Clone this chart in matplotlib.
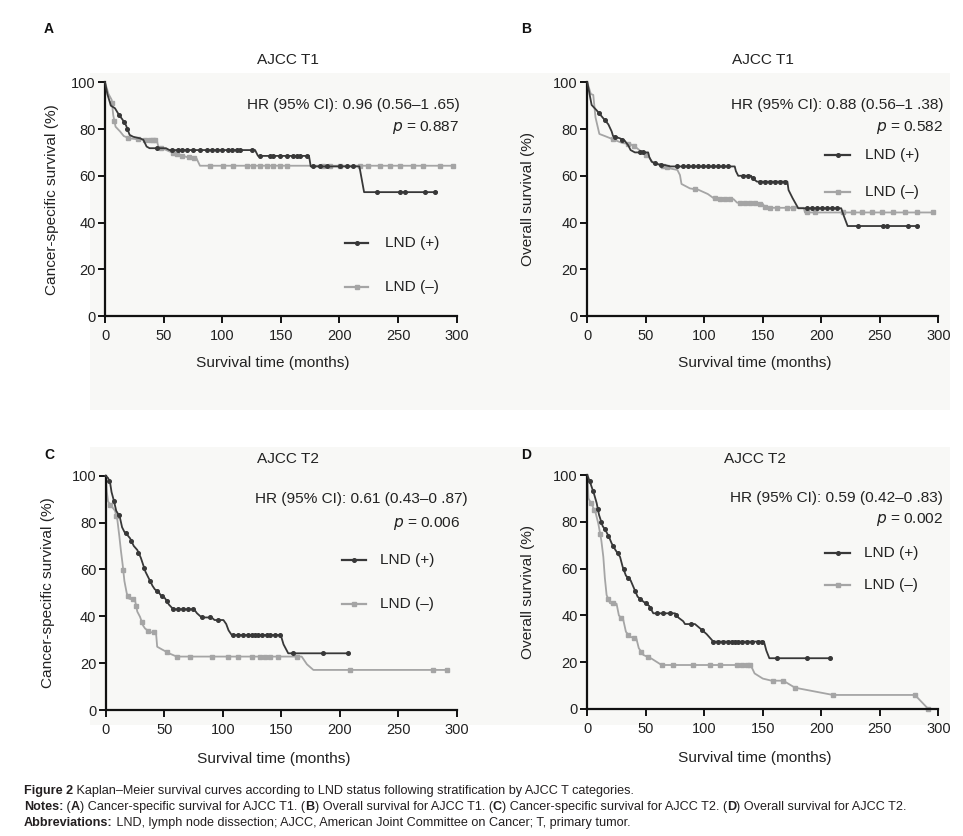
import numpy as np
import matplotlib
matplotlib.use('Agg')
import matplotlib.pyplot as plt
from matplotlib.patches import Rectangle
from matplotlib.lines import Line2D

plt.rcParams['font.family'] = ['Liberation Sans', 'DejaVu Sans']

# ---------------- data ----------------
x_ticks = [0, 50, 100, 150, 200, 250, 300]
y_ticks = [0, 20, 40, 60, 80, 100]
series_labels = ['LND (+)', 'LND (–)']
panel_letters = ['A', 'B', 'C', 'D']
panel_titles = ['AJCC T1', 'AJCC T1', 'AJCC T2', 'AJCC T2']
y_labels = ['Cancer-specific survival (%)', 'Overall survival (%)',
            'Cancer-specific survival (%)', 'Overall survival (%)']
hr_texts = ['HR (95% CI): 0.96 (0.56–1 .65)', 'HR (95% CI): 0.88 (0.56–1 .38)',
            'HR (95% CI): 0.61 (0.43–0 .87)', 'HR (95% CI): 0.59 (0.42–0 .83)']
p_values = ['0.887', '0.582', '0.006', '0.002']

# Panel A: cancer-specific survival, T1
A_pos_t = [0, 2, 5, 8.5, 12, 15, 18, 21, 24, 30, 32.7, 35.5, 38, 52, 55, 128, 130.5, 174, 175.5, 217, 221, 283]
A_pos_s = [100, 95, 90, 88.9, 86, 84, 81.5, 77.5, 76.7, 76, 75.4, 72.5, 71.8, 71.8, 71, 71, 68.5, 68.5, 64, 64, 53, 53]
A_pos_c = [12, 16, 19, 44, 56.9, 62.6, 65.4, 69.7, 75.4, 81, 86.7, 91, 95.3, 99.5, 105.2, 108, 112.3, 115.2, 125,
           132, 140.7, 143.6, 149.3, 155, 160.6, 163.5, 166.3, 172, 177.7, 183.4, 189, 200.5, 206, 211.8,
           231.7, 251.6, 255.9, 273, 281.5]
A_neg_t = [0, 3, 5.7, 7, 9, 12.8, 16, 21, 30, 37, 44, 45.5, 55, 63, 70, 78, 81, 297.5]
A_neg_s = [100, 95, 92.5, 86, 81, 79, 77, 76, 75.5, 75.5, 75.5, 72.5, 70.4, 69, 68, 67.5, 64.3, 64.3]
A_neg_c = [6, 8, 20, 28, 34, 38, 41, 43, 48, 58, 61, 66, 72, 76, 89.6, 101, 109.5, 120.8, 126.5, 132.2, 137.9,
           143.6, 149.3, 155, 186.2, 191.9, 200.5, 217.5, 224.6, 234.6, 243.1, 251.6, 263, 271.5, 285.8, 297.1]

# Panel B: overall survival, T1
B_pos_t = [0, 3.7, 8, 13, 18, 20.8, 22, 28, 32, 35, 37, 40.7, 52, 53, 55, 60, 67, 71, 126, 127, 129, 140, 141,
           145, 171, 172, 175.5, 180.3, 217, 219.5, 222.5, 283]
B_pos_s = [100, 90.3, 88, 85, 82, 79, 77, 76, 75, 73, 71, 70, 70, 68, 66, 65, 64.5, 64, 64, 62, 60, 60, 59,
           57.5, 57.5, 53.9, 50.4, 46.1, 46.1, 42.5, 38.5, 38.5]
B_pos_c = [10, 15, 24, 30, 45, 48, 58, 63, 76.4, 82.1, 86.3, 90.6, 94.9, 99.1, 103.4, 107.7, 112, 116.2, 120.5,
           133.3, 137.6, 141.3, 147.6, 151.9, 156.1, 160.4, 164.7, 169, 187.5, 191.7, 196, 200.3, 204.6,
           208.8, 213.1, 231.6, 253, 255.8, 274.4, 282]
B_neg_t = [0, 3, 5.1, 7, 10.3, 15, 20, 25, 30, 37, 42, 47, 52, 54, 56.4, 65, 72, 77, 79.2, 80.5, 87.7, 95,
           103, 108, 125, 128, 150, 152, 185, 186, 296.3]
B_neg_s = [100, 95, 94.6, 85, 77.9, 77, 76, 75, 74, 73.5, 72, 70, 68.5, 67, 65.5, 64, 63, 62.5, 60.3, 56.5,
           54.6, 54, 52.2, 50.4, 50, 48.5, 48, 46.3, 46.3, 44.3, 44.3]
B_neg_c = [22, 35, 40, 50, 65, 67.8, 92, 109, 113.4, 117.7, 122, 130.5, 134.8, 139, 143.3, 147.6, 151.5, 156,
           161.8, 170.4, 176, 187.5, 194.6, 218.8, 227.4, 234.5, 243, 251.6, 261.5, 271.5, 281.5, 295.7]

# Panel C: cancer-specific survival, T2
C_pos_t = [0, 2, 3.7, 5, 7, 9, 12, 14, 16, 18, 20.8, 24, 27, 30, 32, 34, 36, 38, 40, 42, 45, 47, 50.7, 54,
           57.8, 75.5, 78, 82, 90.6, 93, 100.6, 103, 105, 107.7, 149.6, 152, 156, 207.4]
C_pos_s = [100, 99, 97.2, 93, 89.3, 85, 82.5, 78, 76, 75, 73.3, 70, 68.3, 65, 62, 59, 57, 55, 53, 51.5, 50.5,
           49, 47.7, 45, 43, 43, 41.3, 39.5, 39.5, 38.4, 38.4, 36.7, 34, 32, 32, 28, 24.2, 24.2]
C_pos_c = [3, 7, 11, 17, 22, 28, 33, 38, 44, 48, 52, 57.8, 62.1, 66.4, 70.7, 75, 82, 89, 96, 109, 113.4,
           117.7, 121.9, 124.8, 127.6, 130.5, 133.3, 137.6, 140.5, 144.7, 149, 160.4, 186, 207.4]
C_neg_t = [0, 1, 2, 5, 8, 10, 11.7, 13, 14.5, 16, 18, 20, 25, 27, 29.3, 32, 33.6, 38, 43, 44, 47.9, 55, 60.7,
           167.5, 172, 177.5, 292]
C_neg_s = [100, 93, 89, 87, 85, 81, 74, 68, 62, 55, 49.8, 47.5, 47, 42, 39.8, 36, 34.8, 33.2, 33, 27, 25.9,
           24, 22.8, 22.8, 19.5, 17.1, 17.1]
C_neg_c = [4, 9, 15, 19, 23, 26, 31, 36, 41, 52, 60.7, 72, 90.6, 104.8, 113.4, 124.8, 131.9, 136.2, 140.5,
           147.6, 163.2, 208.8, 280, 291.5]

# Panel D: overall survival, T2
D_pos_t = [0, 1.5, 3, 6, 8, 10, 13.1, 16, 19, 20.8, 24, 28, 30.2, 33, 37, 39.3, 43, 47.9, 53, 56.4, 75, 78,
           82, 83.5, 92, 96.3, 102, 107.7, 151, 153, 155.6, 207.4]
D_pos_s = [100, 98, 96, 91.5, 88, 83, 78.2, 76, 73, 70.8, 68, 65, 60.8, 57, 55, 52.3, 48, 45.9, 44, 40.9,
           40.9, 39, 37.5, 36.3, 36.3, 34.5, 32, 28.8, 28.8, 25, 21.7, 21.7]
D_pos_c = [2, 5, 9, 12, 15, 18, 22, 26, 31, 35, 41, 45, 50, 54, 59.3, 65, 70.7, 76, 89, 98, 107.7, 112,
           116.2, 120.5, 123.4, 126.2, 129.1, 131.9, 136.2, 140.5, 146.2, 149, 161.8, 187.5, 207.4]
D_neg_t = [0, 1, 4, 7, 9.4, 12, 13.7, 15, 16.5, 19.4, 25, 27, 30.8, 33, 36.5, 42, 44, 47.9, 55, 63.5, 139.6,
           143, 150, 157.5, 167.5, 177.5, 210, 280, 291.5]
D_neg_s = [100, 90, 87.2, 84, 79.3, 72, 65, 56, 48.7, 45.2, 45, 40, 38, 33, 30.9, 30, 26, 23.1, 21.5, 18.8,
           18.8, 15.2, 13, 12.1, 12.1, 9.1, 6, 6, 0]
D_neg_c = [3, 6, 11, 18, 22, 29, 35, 40, 46, 52, 63.5, 73.5, 90.6, 104.8, 113.4, 127.6, 131.9, 136.2, 139,
           159, 167.5, 177.5, 210, 280, 291.5]

curves = [
    ((A_pos_t, A_pos_s, A_pos_c), (A_neg_t, A_neg_s, A_neg_c)),
    ((B_pos_t, B_pos_s, B_pos_c), (B_neg_t, B_neg_s, B_neg_c)),
    ((C_pos_t, C_pos_s, C_pos_c), (C_neg_t, C_neg_s, C_neg_c)),
    ((D_pos_t, D_pos_s, D_pos_c), (D_neg_t, D_neg_s, D_neg_c)),
]

caption_lines = [
    [('Figure 2', True), (' Kaplan–Meier survival curves according to LND status following stratification by AJCC T categories.', False)],
    [('Notes:', True), (' (', False), ('A', True), (') Cancer-specific survival for AJCC T1. (', False), ('B', True),
     (') Overall survival for AJCC T1. (', False), ('C', True), (') Cancer-specific survival for AJCC T2. (', False),
     ('D', True), (') Overall survival for AJCC T2.', False)],
    [('Abbreviations:', True), (' LND, lymph node dissection; AJCC, American Joint Committee on Cancer; T, primary tumor.', False)],
]

# ---------------- layout / style ----------------
W, H = 963, 836
fig = plt.figure(figsize=(W / 100, H / 100), dpi=100)
fig.patch.set_facecolor('white')

def fx(px):
    return px / W

def fy(py):
    return 1 - py / H

bg = '#f8f8f6'
fig.patches.append(Rectangle((fx(90), fy(410)), fx(950) - fx(90), fy(73) - fy(410),
                             transform=fig.transFigure, facecolor=bg, edgecolor='none', zorder=-10))
fig.patches.append(Rectangle((fx(90), fy(725)), fx(950) - fx(90), fy(447) - fy(725),
                             transform=fig.transFigure, facecolor=bg, edgecolor='none', zorder=-10))

dark = '#383838'
light = '#a5a5a5'

# axes boxes in pixels: left, right, top, bottom
boxes = [(105, 456.7, 82.3, 316), (587.3, 938.3, 82.3, 316),
         (105.7, 456.7, 475.7, 710), (587.3, 938.3, 475, 709)]
letter_pos = [(44, 29), (521, 29), (44, 455), (521, 455)]
title_pos = [(288, 60), (763, 60), (288, 459), (755, 459)]
hr_pos = [(460, 105, 459, 127), (943, 105, 943, 127), (468, 499, 460, 524), (943, 498, 943, 520)]
leg_pos = [(345, 368, 385, 243, 287), (825, 850, 865, 155, 192),
           (342, 366, 380, 560, 604), (825, 850, 864, 553, 585)]
ylab_x = [52, 528, 48, 528]
xlab_dy = [47, 47, 49, 49]

fs = 10.5
ft = 11.1
for i in range(4):
    l, r, t, b = boxes[i]
    ax = fig.add_axes([fx(l), fy(b), fx(r) - fx(l), fy(t) - fy(b)])
    ax.set_facecolor('none')
    for k, (col, mk, ms) in enumerate([(dark, 'o', 2.6), (light, 's', 3.0)]):
        tt, ss, cc = curves[i][k]
        z = 3.6 if k == 0 else 2.5
        ax.plot(tt, ss, color=col, lw=1.3, clip_on=False, zorder=z)
        cy = np.interp(cc, tt, ss)
        ax.plot(cc, cy, linestyle='none', marker=mk, ms=ms, color=col, mec=col, clip_on=False, zorder=z)
    ax.set_xlim(0, 300)
    ax.set_ylim(0, 100)
    ax.set_xticks(x_ticks)
    ax.set_yticks(y_ticks)
    for s in ['top', 'right']:
        ax.spines[s].set_visible(False)
    for s in ['left', 'bottom']:
        ax.spines[s].set_linewidth(1.6)
        ax.spines[s].set_color('#111111')
    ax.tick_params(axis='both', direction='out', length=4.8, width=1.4, labelsize=fs, color='#111111',
                   labelcolor='#222222')
    ax.tick_params(axis='x', pad=4.5)
    ax.tick_params(axis='y', pad=2.0)
    ax.set_ylabel(y_labels[i], fontsize=ft, color='#222222')
    ax.yaxis.set_label_coords((ylab_x[i] - l) / (r - l), 0.5)
    ax.yaxis.label.set_va('center')
    ax.set_xlabel('Survival time (months)', fontsize=ft, color='#222222')
    ax.xaxis.set_label_coords(0.478, -xlab_dy[i] / (b - t))
    ax.xaxis.label.set_va('center')

    fig.text(fx(letter_pos[i][0]), fy(letter_pos[i][1]), panel_letters[i], fontsize=10,
             fontweight='bold', ha='left', va='center', color='#111111')
    fig.text(fx(title_pos[i][0]), fy(title_pos[i][1]), panel_titles[i], fontsize=ft,
             ha='center', va='center', color='#222222')
    hx, hy, px_, py_ = hr_pos[i]
    fig.text(fx(hx), fy(hy), hr_texts[i], fontsize=ft, ha='right', va='center', color='#222222')
    fig.text(fx(px_), fy(py_), r'$\it{p}$ = ' + p_values[i], fontsize=ft, ha='right', va='center',
             color='#222222')
    x1, x2, xt, y1, y2 = leg_pos[i]
    for k, (col, mk, ms, yy) in enumerate([(dark, 'o', 2.6, y1), (light, 's', 3.0, y2)]):
        fig.add_artist(Line2D([fx(x1), fx(x2)], [fy(yy), fy(yy)], transform=fig.transFigure,
                              color=col, lw=1.6))
        fig.add_artist(Line2D([fx((x1 + x2) / 2)], [fy(yy)], transform=fig.transFigure,
                              color=col, marker=mk, ms=ms, linestyle='none'))
        fig.text(fx(xt), fy(yy), series_labels[k], fontsize=ft, ha='left', va='center', color='#222222')

# ---------------- caption ----------------
cap_family = ['Liberation Sans', 'DejaVu Sans']
renderer = fig.canvas.get_renderer()

def draw_line(x0, y0, parts, size):
    x = x0
    arts = []
    for txt, bold in parts:
        t = fig.text(fx(x), fy(y0), txt, fontsize=size, family=cap_family,
                     fontweight='bold' if bold else 'normal', ha='left', va='center', color='#231f20')
        w = t.get_window_extent(renderer).width
        x += w
        arts.append(t)
    return arts, x - x0

arts, wid = draw_line(24, 807, caption_lines[1], 8.0)
for a in arts:
    a.remove()
cap_size = 8.0 * (912 - 24) / wid
for parts, yy in zip(caption_lines, [791, 807, 823]):
    draw_line(24, yy, parts, cap_size)

fig.savefig('out.png', dpi=100, facecolor='white')
